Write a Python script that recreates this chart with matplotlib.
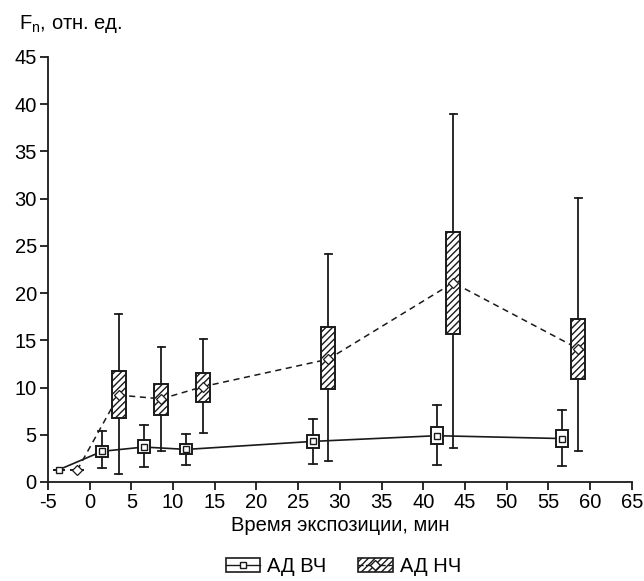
import numpy as np
import matplotlib
matplotlib.use("Agg")
import matplotlib.pyplot as plt
from matplotlib.patches import Patch
from matplotlib.lines import Line2D
from matplotlib.legend_handler import HandlerTuple

plt.rcParams['font.family'] = ['Liberation Sans', 'DejaVu Sans']
plt.rcParams['axes.unicode_minus'] = False

# АД ВЧ (square markers)
hf_x = [-3.7, 1.5, 6.5, 11.6, 26.8, 41.6, 56.6]
hf_mean = [1.3, 3.25, 3.7, 3.45, 4.3, 4.9, 4.6]
hf_q1 = [1.3, 2.65, 3.05, 2.95, 3.6, 4.0, 3.7]
hf_q3 = [1.3, 3.8, 4.4, 4.0, 5.0, 5.8, 5.5]
hf_lo = [1.3, 1.5, 1.6, 1.8, 1.9, 1.8, 1.7]
hf_hi = [1.3, 5.4, 6.0, 5.1, 6.7, 8.1, 7.6]

# АД НЧ (hatched boxes, diamond markers)
lf_x = [-1.5, 3.5, 8.6, 13.6, 28.6, 43.6, 58.6]
lf_mean = [1.25, 9.2, 8.8, 10.1, 13.0, 21.1, 14.1]
lf_q1 = [1.25, 6.75, 7.1, 8.5, 9.8, 15.7, 10.9]
lf_q3 = [1.25, 11.7, 10.4, 11.5, 16.4, 26.5, 17.3]
lf_lo = [1.25, 0.8, 3.3, 5.2, 2.2, 3.6, 3.3]
lf_hi = [1.25, 17.8, 14.3, 15.1, 24.1, 39.0, 30.1]

x_ticks = list(range(-5, 70, 5))
y_ticks = list(range(0, 50, 5))

col = '#1a1a1a'
fs = 14.5

fig = plt.figure(figsize=(6.44, 5.81), dpi=100)
ax = fig.add_axes([0.0745, 0.1704, 0.9065, 0.7316])


def stats_of(xs, q1, q3, lo, hi, mean):
    st = []
    for i in range(len(xs)):
        st.append({'med': mean[i], 'q1': q1[i], 'q3': q3[i],
                   'whislo': lo[i], 'whishi': hi[i], 'fliers': []})
    return st


ax.plot(hf_x, hf_mean, '-', color=col, lw=1.2, zorder=1)
ax.plot(lf_x, lf_mean, '--', color=col, lw=1.1, dashes=(4, 3), zorder=1)

ax.bxp(stats_of(hf_x, hf_q1, hf_q3, hf_lo, hf_hi, hf_mean), positions=hf_x,
       widths=1.45, patch_artist=True, manage_ticks=False,
       boxprops=dict(facecolor='white', edgecolor=col, lw=1.4),
       whiskerprops=dict(color=col, lw=1.3), capprops=dict(color=col, lw=1.3),
       medianprops=dict(lw=0), capwidths=0.95, zorder=2)

res = ax.bxp(stats_of(lf_x, lf_q1, lf_q3, lf_lo, lf_hi, lf_mean), positions=lf_x,
             widths=1.7, patch_artist=True, manage_ticks=False,
             boxprops=dict(facecolor='white', edgecolor=col, lw=1.4),
             whiskerprops=dict(color=col, lw=1.3), capprops=dict(color=col, lw=1.3),
             medianprops=dict(lw=0), capwidths=0.85, zorder=2)
for b in res['boxes']:
    b.set_hatch('/////')

ax.plot(hf_x, hf_mean, 's', ms=5, mfc='white', mec=col, mew=1.0, ls='none', zorder=3)
ax.plot(lf_x, lf_mean, 'D', ms=5.5, mfc='white', mec=col, mew=0.9, ls='none', zorder=3)

ax.set_xlim(-5, 65)
ax.set_ylim(0, 45)
ax.set_xticks(x_ticks)
ax.set_yticks(y_ticks)
ax.spines['top'].set_visible(False)
ax.spines['right'].set_visible(False)
for s in ('left', 'bottom'):
    ax.spines[s].set_color(col)
    ax.spines[s].set_linewidth(1.3)
ax.tick_params(direction='out', length=6, width=1.3, colors=col, labelsize=fs,
               labelcolor='black', pad=2)

ax.set_xlabel('Время экспозиции, мин', fontsize=fs, labelpad=3)
fig.text(0.03, 0.958, r'F$_\mathregular{n}$, отн. ед.', fontsize=fs, va='center')

h1 = (Patch(facecolor='white', edgecolor=col, lw=1.2),
      Line2D([], [], color=col, lw=1.0, marker='s', ms=4, mfc='white', mec=col))
h2 = (Patch(facecolor='white', edgecolor=col, lw=1.2, hatch='/////'),
      Line2D([], [], color=col, lw=1.0, ls='--', marker='D', ms=5, mfc='white', mec=col))
fig.legend([h1, h2], ['АД ВЧ', 'АД НЧ'], loc='center', bbox_to_anchor=(0.533, 0.025),
           ncol=2, frameon=False, fontsize=fs, handlelength=1.7, handleheight=0.75,
           columnspacing=1.6, handletextpad=0.35,
           handler_map={tuple: HandlerTuple(ndivide=1, pad=0)})

fig.savefig('out.png', dpi=100)
